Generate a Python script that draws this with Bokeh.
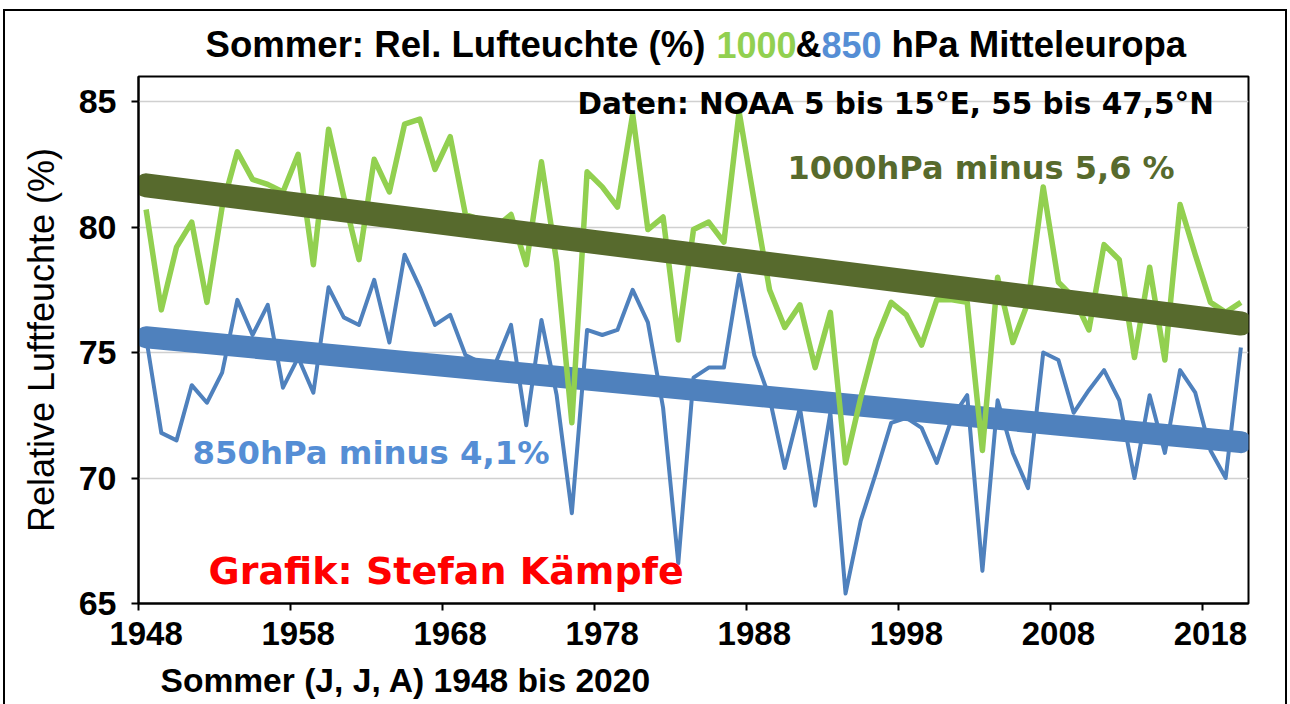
import numpy as np
from bokeh.plotting import figure
from bokeh.layouts import column
from bokeh.models import FixedTicker, Label, ColumnDataSource
from bokeh.embed import file_html
from bokeh.resources import INLINE

# ---------------- data ----------------
years = list(range(1948, 2021))

rh_1000 = [
    80.7, 76.7, 79.2, 80.2, 77.0, 80.8, 83.0, 81.9, 81.7, 81.4,   # 1948-1957
    82.9, 78.5, 83.9, 81.2, 78.7, 82.7, 81.4, 84.1, 84.3, 82.3,   # 1958-1967
    83.6, 80.5, 80.3, 80.0, 80.5, 78.5, 82.6, 78.6, 72.2, 82.2,   # 1968-1977
    81.6, 80.8, 84.5, 79.9, 80.4, 75.5, 79.9, 80.2, 79.4, 84.6,   # 1978-1987
    81.0, 77.5, 76.0, 76.9, 74.4, 76.6, 70.6, 73.2, 75.5, 77.0,   # 1988-1997
    76.5, 75.3, 77.1, 77.1, 77.0, 71.1, 78.0, 75.4, 77.0, 81.6,   # 1998-2007
    77.8, 77.2, 75.9, 79.3, 78.7, 74.8, 78.4, 74.7, 80.9, 78.9,   # 2008-2017
    77.0, 76.6, 77.0,                                             # 2018-2020
]

rh_850 = [
    75.6, 71.8, 71.5, 73.7, 73.0, 74.2, 77.1, 75.7, 76.9, 73.6,   # 1948-1957
    74.8, 73.4, 77.6, 76.4, 76.1, 77.9, 75.4, 78.9, 77.6, 76.1,   # 1958-1967
    76.5, 74.9, 74.6, 74.6, 76.1, 72.1, 76.3, 73.3, 68.6, 75.9,   # 1968-1977
    75.7, 75.9, 77.5, 76.2, 72.8, 66.6, 74.0, 74.4, 74.4, 78.1,   # 1978-1987
    74.9, 73.2, 70.4, 72.8, 68.9, 72.6, 65.4, 68.3, 70.2, 72.2,   # 1988-1997
    72.4, 72.0, 70.6, 72.4, 73.3, 66.3, 73.1, 71.0, 69.6, 75.0,   # 1998-2007
    74.7, 72.6, 73.5, 74.3, 73.1, 70.0, 73.3, 71.0, 74.3, 73.4,   # 2008-2017
    71.1, 70.0, 75.2,                                             # 2018-2020
]

y_ticks = [65, 70, 75, 80, 85]
x_label_years = [1948, 1958, 1968, 1978, 1988, 1998, 2008, 2018]
x_tick_marks = [1947.5, 1957.5, 1967.5, 1977.5, 1987.5, 1997.5, 2007.5, 2017.5]

# ---------------- styles ----------------
GREEN = "#92D050"
BLUE = "#4F81BD"
OLIVE = "#576A2D"
TEXT_BLUE = "#558ED5"

BOLD_WIDE = "DejaVu Sans"
ARIAL = "Liberation Sans"
NARROW = "'Liberation Sans Narrow', 'Liberation Sans'"

W = 1290
LEFT, RIGHT = 138, 42          # page margins of the plotting frame


def text_strip(height, y_top):
    """Axis-free figure whose frame spans page x 138..1248; data units = page pixels."""
    f = figure(width=W, height=height,
               x_range=(LEFT, W - RIGHT), y_range=(y_top + height, y_top),
               output_backend="svg", toolbar_location=None,
               x_axis_location=None, y_axis_location=None,
               min_border_left=LEFT, min_border_right=RIGHT,
               min_border_top=0, min_border_bottom=0,
               background_fill_color=None, border_fill_color=None)
    f.outline_line_color = None
    f.xgrid.visible = False
    f.ygrid.visible = False
    return f


def add_label(fig, text, x, y, color, font, size, style="bold", units="data"):
    fig.add_layout(Label(x=x, y=y, x_units=units, y_units=units, text=text,
                         text_color=color, text_font=font, text_font_size=size,
                         text_font_style=style, text_align="left",
                         text_baseline="alphabetic"))


# ---------------- title strip ----------------
t = text_strip(70, 0)
add_label(t, "Sommer: Rel. Lufteuchte (%)", 205, 44, "black", ARIAL, "36.6px")
add_label(t, "1000", 716, 44, GREEN, ARIAL, "36px")
add_label(t, "&", 795, 44, "black", ARIAL, "36px")
add_label(t, "850", 821, 44, TEXT_BLUE, ARIAL, "36px")
add_label(t, "hPa Mitteleuropa", 891, 44, "black", ARIAL, "36.6px")

# ---------------- main chart ----------------
p = figure(
    width=W, height=585,
    x_range=(1947.5, 2020.5), y_range=(65, 86),
    output_backend="svg", toolbar_location=None,
    min_border_left=LEFT, min_border_right=RIGHT,
    min_border_top=6, min_border_bottom=52,
    background_fill_color="white", border_fill_color=None,
)

p.outline_line_color = "black"
p.outline_line_width = 2
p.xgrid.grid_line_color = None
p.ygrid.grid_line_color = "#D0D0D0"
p.ygrid.grid_line_width = 1.5

p.yaxis.ticker = FixedTicker(ticks=y_ticks)
p.yaxis.axis_line_color = "black"
p.yaxis.axis_line_width = 2
p.yaxis.major_tick_out = 7
p.yaxis.major_tick_in = 0
p.yaxis.major_tick_line_width = 2
p.yaxis.minor_tick_line_color = None
p.yaxis.major_label_text_font = NARROW
p.yaxis.major_label_text_font_style = "bold"
p.yaxis.major_label_text_font_size = "34px"
p.yaxis.major_label_text_color = "black"
p.yaxis.major_label_standoff = 15
p.yaxis.axis_label = "Relative Luftfeuchte (%)"
p.yaxis.axis_label_text_font = ARIAL
p.yaxis.axis_label_text_font_style = "normal"
p.yaxis.axis_label_text_font_size = "36px"
p.yaxis.axis_label_text_color = "black"
p.yaxis.axis_label_standoff = 14

p.xaxis.ticker = FixedTicker(ticks=x_label_years, minor_ticks=x_tick_marks)
p.xaxis.axis_line_color = "black"
p.xaxis.axis_line_width = 2
p.xaxis.major_tick_out = 0
p.xaxis.major_tick_in = 0
p.xaxis.minor_tick_out = 7
p.xaxis.minor_tick_in = 0
p.xaxis.minor_tick_line_color = "black"
p.xaxis.minor_tick_line_width = 2
p.xaxis.major_label_text_font = NARROW
p.xaxis.major_label_text_font_style = "bold"
p.xaxis.major_label_text_font_size = "33px"
p.xaxis.major_label_text_color = "black"
p.xaxis.major_label_standoff = 11

src = ColumnDataSource(dict(year=years, rh1000=rh_1000, rh850=rh_850))

yr = np.array(years, dtype=float)
k850, d850 = np.polyfit(yr, np.array(rh_850), 1)
k1000, d1000 = np.polyfit(yr, np.array(rh_1000), 1)
ends = [years[0], years[-1]]

p.line("year", "rh850", source=src, line_color=BLUE, line_width=4, line_join="round")
p.line(ends, [k850 * e + d850 for e in ends], line_color=BLUE, line_width=22,
       line_cap="round")
p.line("year", "rh1000", source=src, line_color=GREEN, line_width=5.5, line_join="round")
p.line(ends, [k1000 * e + d1000 for e in ends], line_color=OLIVE, line_width=24,
       line_cap="round")

# in-plot texts: screen units from the frame's bottom-left corner
add_label(p, "Daten: NOAA 5 bis 15°E, 55 bis 47,5°N", 439, 500, "black", BOLD_WIDE, "29.5px", units="screen")
add_label(p, "1000hPa minus 5,6 %", 649, 436, OLIVE, BOLD_WIDE, "32px", units="screen")
add_label(p, "850hPa minus 4,1%", 54, 151, TEXT_BLUE, BOLD_WIDE, "32.3px", units="screen")
add_label(p, "Grafik: Stefan Kämpfe", 70, 33, "#FF0000", BOLD_WIDE, "38px", units="screen")

# ---------------- x-axis caption strip ----------------
b = text_strip(49, 655)
add_label(b, "Sommer (J, J, A) 1948 bis 2020", 160, 680, "black", ARIAL, "33.6px")

layout = column(t, p, b, spacing=0)
layout.styles = {
    "box-shadow": ("inset 3px 0 0 0 white, inset -3px 0 0 0 white, inset 0 9px 0 0 white, "
                   "inset 5px 0 0 0 black, inset -5px 0 0 0 black, inset 0 11px 0 0 black"),
    "background": "white",
}

open("out.html", "w").write(file_html(layout, INLINE))
